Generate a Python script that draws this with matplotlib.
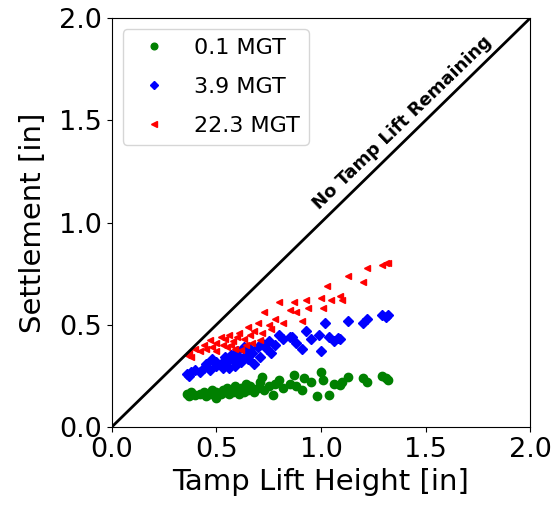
import numpy as np
import matplotlib.pyplot as plt

# tamp lift height [in] vs settlement [in]
x_01 = [0.36, 0.37, 0.38, 0.40, 0.42, 0.44, 0.45, 0.47, 0.48, 0.50, 0.50, 0.52, 0.53, 0.54,
        0.55, 0.56, 0.57, 0.58, 0.59, 0.60, 0.61, 0.62, 0.63, 0.64, 0.65, 0.66, 0.68, 0.70,
        0.71, 0.72, 0.73, 0.75, 0.77, 0.78, 0.80, 0.82, 0.85, 0.87, 0.88, 0.91, 0.92, 0.95,
        0.98, 1.00, 1.01, 1.04, 1.06, 1.09, 1.10, 1.13, 1.20, 1.22, 1.29, 1.31, 1.32]
y_01 = [0.16, 0.15, 0.17, 0.155, 0.16, 0.17, 0.15, 0.16, 0.18, 0.17, 0.14, 0.16, 0.18, 0.17,
        0.19, 0.16, 0.18, 0.17, 0.20, 0.18, 0.16, 0.19, 0.17, 0.21, 0.18, 0.20, 0.17, 0.19,
        0.22, 0.245, 0.18, 0.20, 0.155, 0.21, 0.23, 0.19, 0.21, 0.255, 0.20, 0.18, 0.24, 0.22,
        0.15, 0.27, 0.23, 0.155, 0.21, 0.205, 0.22, 0.245, 0.24, 0.22, 0.25, 0.24, 0.23]

x_39 = [0.36, 0.37, 0.38, 0.40, 0.42, 0.44, 0.45, 0.47, 0.48, 0.50, 0.50, 0.52, 0.53, 0.54,
        0.55, 0.56, 0.57, 0.58, 0.59, 0.60, 0.61, 0.62, 0.63, 0.64, 0.65, 0.66, 0.67, 0.68,
        0.70, 0.71, 0.72, 0.74, 0.75, 0.76, 0.78, 0.80, 0.82, 0.85, 0.86, 0.88, 0.91, 0.93,
        0.95, 0.99, 1.00, 1.02, 1.04, 1.06, 1.08, 1.09, 1.13, 1.20, 1.22, 1.29, 1.31, 1.32]
y_39 = [0.26, 0.25, 0.27, 0.28, 0.27, 0.29, 0.31, 0.28, 0.33, 0.30, 0.32, 0.31, 0.29, 0.34,
        0.32, 0.29, 0.35, 0.33, 0.30, 0.37, 0.34, 0.32, 0.39, 0.35, 0.33, 0.38, 0.36, 0.31,
        0.39, 0.34, 0.41, 0.38, 0.42, 0.36, 0.40, 0.45, 0.43, 0.44, 0.44, 0.41, 0.38, 0.47,
        0.43, 0.45, 0.37, 0.51, 0.44, 0.42, 0.435, 0.43, 0.52, 0.51, 0.53, 0.55, 0.54, 0.55]

x_223 = [0.36, 0.37, 0.38, 0.40, 0.42, 0.44, 0.45, 0.47, 0.48, 0.50, 0.50, 0.52, 0.53, 0.54,
         0.55, 0.56, 0.57, 0.58, 0.59, 0.60, 0.61, 0.62, 0.63, 0.64, 0.65, 0.66, 0.67, 0.68,
         0.70, 0.71, 0.72, 0.73, 0.75, 0.76, 0.78, 0.80, 0.82, 0.85, 0.87, 0.88, 0.91, 0.93,
         0.94, 1.00, 1.01, 1.03, 1.05, 1.09, 1.10, 1.13, 1.20, 1.22, 1.29, 1.31, 1.32]
y_223 = [0.35, 0.36, 0.34, 0.38, 0.37, 0.40, 0.38, 0.425, 0.39, 0.41, 0.37, 0.44, 0.40, 0.43,
         0.39, 0.45, 0.40, 0.42, 0.38, 0.44, 0.46, 0.375, 0.43, 0.40, 0.49, 0.45, 0.41, 0.47,
         0.51, 0.425, 0.46, 0.56, 0.50, 0.48, 0.53, 0.61, 0.51, 0.57, 0.61, 0.56, 0.52, 0.62,
         0.58, 0.63, 0.58, 0.69, 0.62, 0.64, 0.62, 0.74, 0.71, 0.78, 0.79, 0.80, 0.80]

fig = plt.figure(figsize=(5.51, 5.07), dpi=100)
ax = fig.add_axes([0.203, 0.158, 0.759, 0.806])

ax.plot(x_01, y_01, 'o', color='green', markersize=6, label='0.1 MGT')
ax.plot(x_39, y_39, 'D', color='blue', markersize=5.5, label='3.9 MGT')
ax.plot(x_223, y_223, '<', color='red', markersize=5, label='22.3 MGT')

ax.plot([0, 2], [0, 2], color='black', linewidth=2)
ax.text(1.39, 1.49, 'No Tamp Lift Remaining', rotation=44, fontsize=13,
        fontweight='bold', ha='center', va='center')

ax.set_xlim(0, 2)
ax.set_ylim(0, 2)
ax.set_xticks([0.0, 0.5, 1.0, 1.5, 2.0])
ax.set_yticks([0.0, 0.5, 1.0, 1.5, 2.0])
ax.tick_params(labelsize=19.5)
ax.set_xlabel('Tamp Lift Height [in]', fontsize=21)
ax.set_ylabel('Settlement [in]', fontsize=21, labelpad=9)
ax.legend(loc='upper left', fontsize=16, markerscale=0.8, labelspacing=0.85)

fig.savefig('out.png', dpi=100)
